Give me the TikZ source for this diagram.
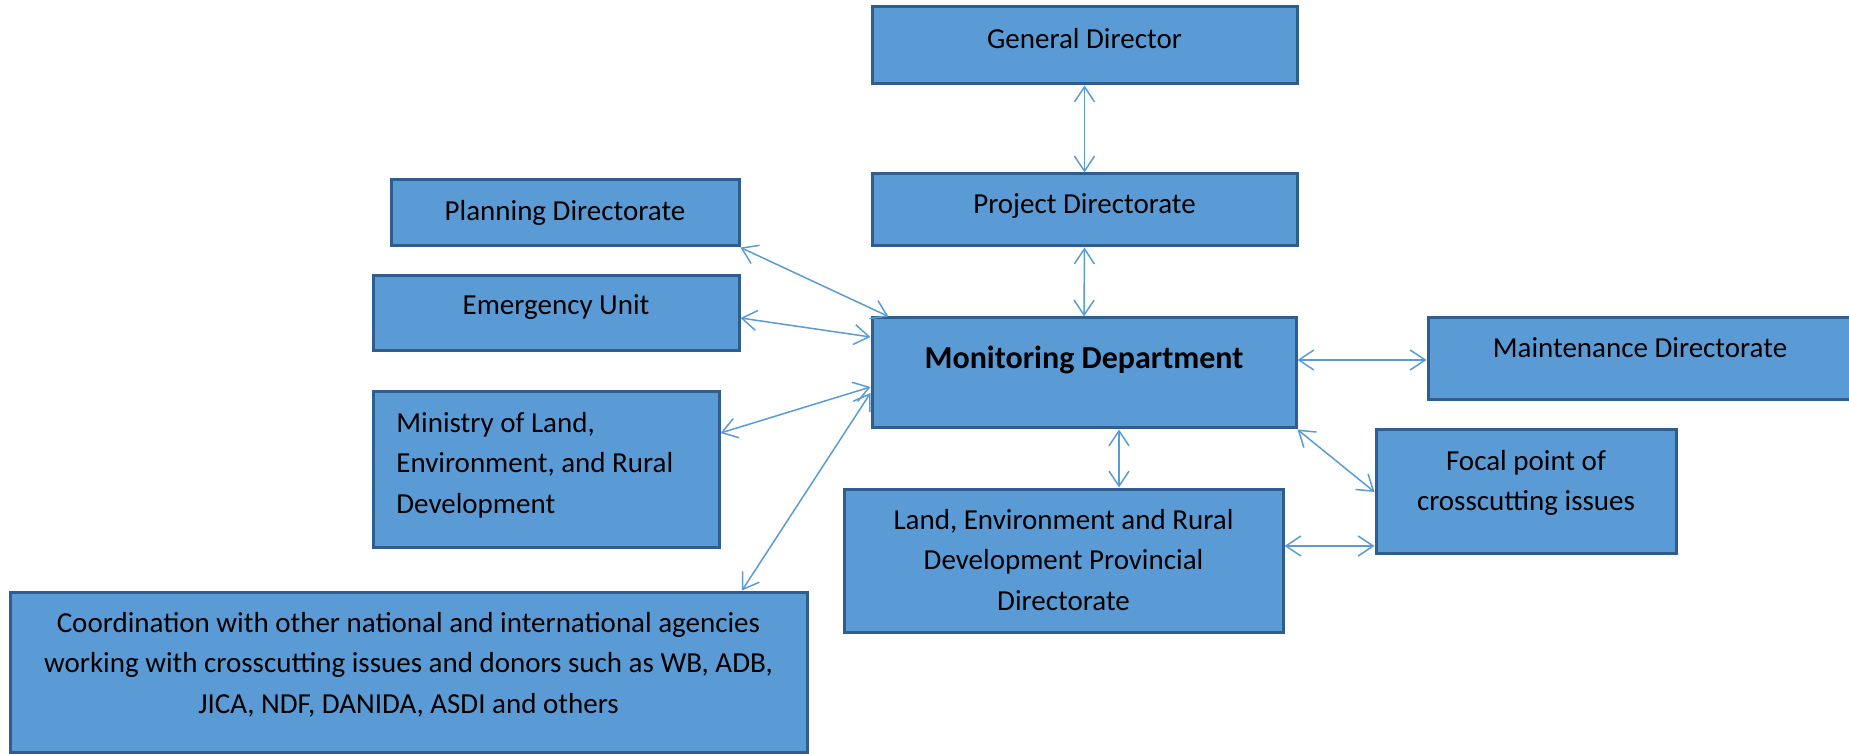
\documentclass[tikz,border=0pt]{standalone}
\usepackage{fontspec}
\setmainfont{Carlito}
\usetikzlibrary{arrows.meta,calc}
\definecolor{boxfill}{HTML}{5B9BD5}
\definecolor{boxline}{HTML}{2F5D8E}
\definecolor{connc}{HTML}{5B9BD5}
\tikzset{
  box/.style={draw=boxline, fill=boxfill, line width=1.5pt, rectangle, inner sep=0pt},
  lbl/.style={inner sep=0pt, anchor=north, yshift=14.175pt, align=center,
    font=\fontsize{14.5}{20.25}\selectfont, text=black},
  conn/.style={draw=connc, line width=0.75pt, {Straight Barb[length=7.5pt,width=10pt]}-{Straight Barb[length=7.5pt,width=10pt]}}
}
\begin{document}
\begin{tikzpicture}[x=0.5pt,y=-0.5pt]
\useasboundingbox (0,0) rectangle (1849,754);
\clip (0,0) rectangle (1849,754);
% boxes
\node[box, minimum width=212.5pt, minimum height=38.5pt] (gd) at (1084.5,45.5) {};
\node[box, minimum width=212.5pt, minimum height=36pt] (pd) at (1084.5,210) {};
\node[box, minimum width=174pt, minimum height=33pt] (plan) at (565,213) {};
\node[box, minimum width=183pt, minimum height=37.5pt] (emer) at (556,313.5) {};
\node[box, minimum width=173pt, minimum height=77.5pt] (min) at (546,469.5) {};
\node[box, minimum width=398.5pt, minimum height=80pt] (coord) at (408.5,672) {};
\node[box, minimum width=212pt, minimum height=55pt] (mon) at (1084,373) {};
\node[box, minimum width=221pt, minimum height=41pt] (maint) at (1649,359) {};
\node[box, minimum width=150pt, minimum height=61.5pt] (focal) at (1526,491.5) {};
\node[box, minimum width=219.5pt, minimum height=71.5pt] (land) at (1063.5,560.5) {};
% texts
\node[lbl] (gdt) at (1084.5,48) {\strut General Director};
\node[lbl] (pdt) at (1084.5,213) {\strut Project Directorate};
\node[lbl] (plant) at (565,220) {\strut Planning Directorate};
\node[lbl] (emert) at (556,314) {\strut Emergency Unit};
\node[lbl, font=\fontsize{16}{20.25}\selectfont\bfseries] (mont) at (1084,368) {\strut Monitoring Department};
\node[lbl] (maintt) at (1640,357) {\strut Maintenance Directorate};
\node[lbl, anchor=north west, align=left] (mint) at (396,432) {\strut Ministry of Land,\\ Environment, and Rural\\ Development};
\node[lbl] (coordt) at (408.5,632) {\strut Coordination with other national and international agencies\\ working with crosscutting issues and donors such as WB, ADB,\\ JICA, NDF, DANIDA, ASDI and others};
\node[lbl] (focalt) at (1526,470) {\strut Focal point of\\ crosscutting issues};
\node[lbl] (landt) at (1063.5,529) {\strut Land, Environment and Rural\\ Development Provincial\\ Directorate};
% connectors
\draw[conn] (gd.south) -- (pd.north);
\draw[conn] (pd.south) -- (mon.north);
\draw[conn] (plan.south east) -- ($(mon.north west)+(18,0)$);
\draw[conn] ($(emer.east)+(0,4.5)$) -- ($(mon.west)+(0,-36)$);
\draw[conn] ($(min.east)+(0,-36.5)$) -- ($(mon.west)+(0,14)$);
\draw[conn] ($(coord.north)+(333.5,0)$) -- ($(mon.west)+(0,20)$);
\coordinate (m7) at ($(mon.east)+(0,-13)$);
\draw[conn] (m7) -- (m7 -| maint.west);
\coordinate (m8) at ($(mon.south)+(35,0)$);
\draw[conn] (m8) -- (m8 |- land.north);
\draw[conn] (mon.south east) -- ($(focal.west)+(0,0.5)$);
\coordinate (m10) at ($(land.east)+(0,-14.5)$);
\draw[conn] (m10) -- (m10 -| focal.west);
\end{tikzpicture}
\end{document}
